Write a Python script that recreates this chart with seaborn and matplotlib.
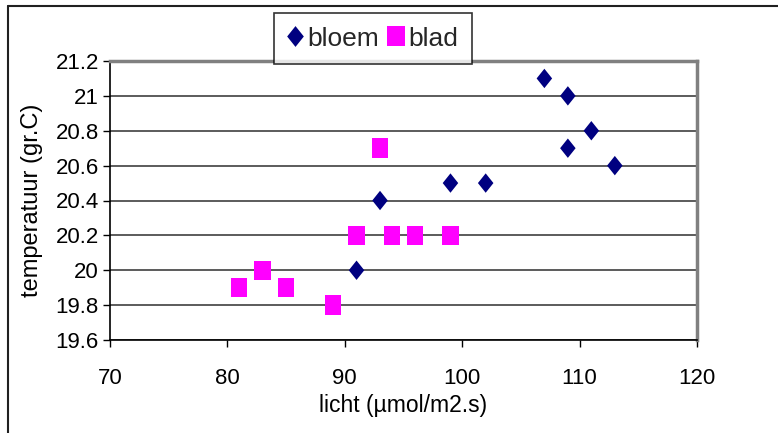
import matplotlib
matplotlib.use("Agg")
import matplotlib.pyplot as plt
from matplotlib.lines import Line2D
import seaborn as sns
import pandas as pd

bloem_x = [91, 93, 99, 102, 107, 109, 109, 111, 113]
bloem_y = [20.0, 20.4, 20.5, 20.5, 21.1, 21.0, 20.7, 20.8, 20.6]
blad_x = [81, 83, 85, 89, 91, 93, 94, 96, 99]
blad_y = [19.9, 20.0, 19.9, 19.8, 20.2, 20.7, 20.2, 20.2, 20.2]
series = ["bloem", "blad"]
x_ticks = [70, 80, 90, 100, 110, 120]
y_ticks = [19.6, 19.8, 20.0, 20.2, 20.4, 20.6, 20.8, 21.0, 21.2]
y_labels = ["19.6", "19.8", "20", "20.2", "20.4", "20.6", "20.8", "21", "21.2"]

df = pd.DataFrame({
    "x": bloem_x + blad_x,
    "y": bloem_y + blad_y,
    "serie": [series[0]] * len(bloem_x) + [series[1]] * len(blad_x),
})

sns.set_theme(style="white")
plt.rcParams["font.family"] = ["Liberation Sans", "DejaVu Sans"]

fig = plt.figure(figsize=(7.78, 4.33), dpi=100)
ax = fig.add_axes([110 / 778, 1 - 340 / 433, (697 - 110) / 778, (340 - 61) / 433])

diamond = [(0, 1), (0.8, 0), (0, -1), (-0.8, 0)]
square = [(-0.42, -0.5), (0.42, -0.5), (0.42, 0.5), (-0.42, 0.5)]
colors = {"bloem": "#000080", "blad": "#FF00FF"}
sns.scatterplot(data=df, x="x", y="y", hue="serie", style="serie",
                markers={"bloem": diamond, "blad": square},
                palette=colors, s=195, linewidth=0, ax=ax, legend=False, zorder=3)

ax.set_xlim(70, 120)
ax.set_ylim(19.6, 21.2)
ax.set_xticks(x_ticks)
ax.set_xticklabels([str(t) for t in x_ticks])
ax.set_yticks(y_ticks)
ax.set_yticklabels(y_labels)
ax.yaxis.grid(True, color="#404040", linewidth=1.2)
ax.xaxis.grid(False)
ax.set_axisbelow(True)

for side in ["left", "bottom"]:
    ax.spines[side].set_color("black")
    ax.spines[side].set_linewidth(1.2)
for side in ["top", "right"]:
    ax.spines[side].set_color("#808080")
    ax.spines[side].set_linewidth(2.5)

ax.tick_params(axis="both", direction="out", length=5, width=1, color="black",
               labelsize=16, labelcolor="black", pad=3)
ax.tick_params(axis="x", pad=15)
ax.tick_params(left=True, bottom=True)

ax.set_xlabel("licht (µmol/m2.s)", fontsize=16.5, color="black", labelpad=4)
ax.set_ylabel("temperatuur (gr.C)", fontsize=17, color="black", labelpad=9)

handles = [
    Line2D([], [], marker=diamond, linestyle="none", color=colors["bloem"], markersize=15, markeredgewidth=0),
    Line2D([], [], marker=[(-0.45, -0.5), (0.45, -0.5), (0.45, 0.5), (-0.45, 0.5)], linestyle="none",
           color=colors["blad"], markersize=14, markeredgewidth=0),
]
leg = fig.legend(handles, series, loc="upper left", bbox_to_anchor=(274 / 778, 1 - 13 / 433),
                 ncol=2, frameon=True, fancybox=False, fontsize=19, handlelength=0.55,
                 handletextpad=0.2, columnspacing=0.35, borderpad=0.52, borderaxespad=0)
leg.get_frame().set_edgecolor("black")
leg.get_frame().set_linewidth(1.2)
leg.set_zorder(10)

fig.add_artist(Line2D([8 / 778, 8 / 778], [0, 1 - 6 / 433], transform=fig.transFigure, color="#202020", linewidth=1.5))
fig.add_artist(Line2D([8 / 778, 1], [1 - 6 / 433, 1 - 6 / 433], transform=fig.transFigure, color="#202020", linewidth=1.5))

fig.savefig("out.png", dpi=100)
